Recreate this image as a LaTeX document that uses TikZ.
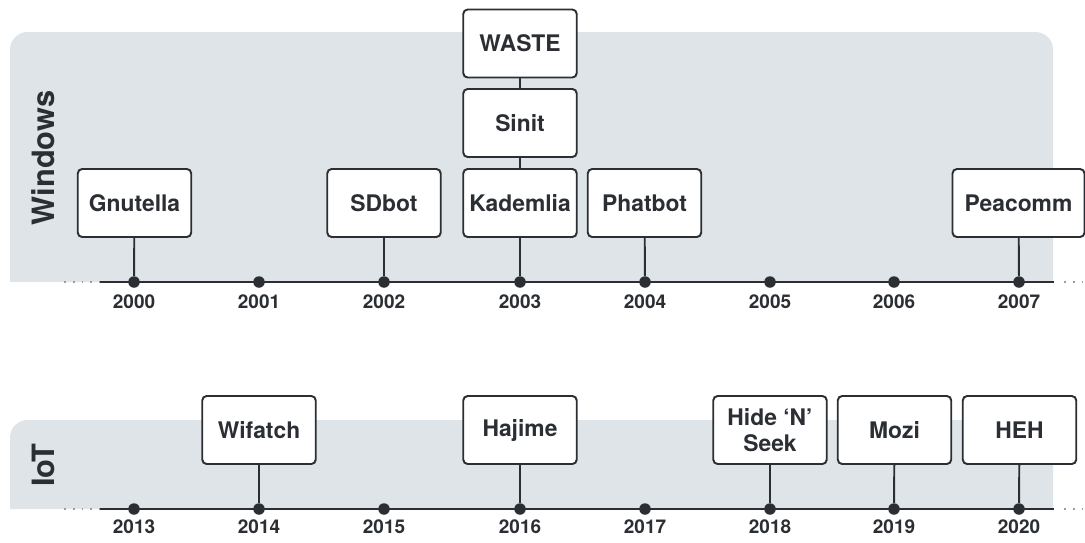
\documentclass[tikz,border=0pt]{standalone}
\usepackage{fontspec}
\setmainfont{TeX Gyre Heros}
\usepackage{tikz}
\usetikzlibrary{positioning}
\definecolor{panelgray}{HTML}{DEE4E7}
\definecolor{inkdark}{HTML}{2B2F33}
\definecolor{dotgray}{HTML}{9A9EA2}

\begin{document}
\begin{tikzpicture}[
    x=0.02cm, y=-0.02cm,
    % timeline styles
    bot/.style={rectangle, draw=inkdark, line width=1.1pt, fill=white, rounded corners=2.5pt,
                minimum width=2.27cm, minimum height=1.36cm, inner sep=2pt, align=center,
                text=inkdark, font=\fontsize{13}{15}\selectfont\bfseries},
    yr/.style={circle, fill=inkdark, minimum size=0.23cm, inner sep=0pt},
    yrlab/.style={text=inkdark, font=\fontsize{10.8}{12}\selectfont\bfseries},
    side/.style={rotate=90, text=inkdark, font=\fontsize{17.5}{20}\selectfont\bfseries},
    edge/.style={draw=inkdark, line width=1.1pt},
    axis/.style={draw=inkdark, line width=1.1pt},
    fade/.style={draw=dotgray, line width=1pt, dash pattern=on 1pt off 4pt},
]
\useasboundingbox (0,0) rectangle (1085,542);

% =========================================================
% Top panel: Windows
% =========================================================
\fill[panelgray] (10,282) [rounded corners=10] -- (10,32) -- (1053,32) [sharp corners] -- (1053,282) -- cycle;
\node[side] (win) at (43,158) {Windows};

% axis
\coordinate (wa) at (100,282);
\coordinate (wb) at (1054,282);
\coordinate (wfa) at (64,282);
\coordinate (wfb) at (1064,282);
\coordinate (wfc) at (1085,282);
\draw[axis] (wa) -- (wb);
\draw[fade] (wfa) -- (wa);
\draw[fade] (wfb) -- (wfc);

% years
\node[yr] (y2000) at (134,282) {};
\node[yr] (y2001) at (259,282) {};
\node[yr] (y2002) at (384,282) {};
\node[yr] (y2003) at (520,282) {};
\node[yr] (y2004) at (645,282) {};
\node[yr] (y2005) at (770,282) {};
\node[yr] (y2006) at (894,282) {};
\node[yr] (y2007) at (1019,282) {};

\node[yrlab] (l2000) at (134,302) {2000};
\node[yrlab] (l2001) at (259,302) {2001};
\node[yrlab] (l2002) at (384,302) {2002};
\node[yrlab] (l2003) at (520,302) {2003};
\node[yrlab] (l2004) at (645,302) {2004};
\node[yrlab] (l2005) at (770,302) {2005};
\node[yrlab] (l2006) at (894,302) {2006};
\node[yrlab] (l2007) at (1019,302) {2007};

% botnets
\node[bot] (gnu)   at (134.5,203) {Gnutella};
\node[bot] (sdbot) at (384,203)   {SDbot};
\node[bot] (kad)   at (520,203)   {Kademlia};
\node[bot] (sinit) at (520,123)   {Sinit};
\node[bot] (waste) at (520,43.5)  {WASTE};
\node[bot] (phat)  at (644.5,203) {Phatbot};
\node[bot, minimum width=2.64cm] (peac) at (1018.5,203) {Peacomm};

\draw[edge] (gnu) -- (y2000);
\draw[edge] (sdbot) -- (y2002);
\draw[edge] (kad) -- (y2003);
\draw[edge] (sinit) -- (kad);
\draw[edge] (waste) -- (sinit);
\draw[edge] (phat) -- (y2004);
\draw[edge] (peac) -- (y2007);

% =========================================================
% Bottom panel: IoT
% =========================================================
\fill[panelgray] (10,509) [rounded corners=10] -- (10,420) -- (1053,420) [sharp corners] -- (1053,509) -- cycle;
\node[side] (iot) at (43,465) {IoT};

% axis
\coordinate (ia) at (100,509);
\coordinate (ib) at (1054,509);
\coordinate (ifa) at (64,509);
\coordinate (ifb) at (1064,509);
\coordinate (ifc) at (1085,509);
\draw[axis] (ia) -- (ib);
\draw[fade] (ifa) -- (ia);
\draw[fade] (ifb) -- (ifc);

% years
\node[yr] (y2013) at (134,509) {};
\node[yr] (y2014) at (259,509) {};
\node[yr] (y2015) at (384,509) {};
\node[yr] (y2016) at (520,509) {};
\node[yr] (y2017) at (645,509) {};
\node[yr] (y2018) at (770,509) {};
\node[yr] (y2019) at (894,509) {};
\node[yr] (y2020) at (1019,509) {};

\node[yrlab] (l2013) at (134,527) {2013};
\node[yrlab] (l2014) at (259,527) {2014};
\node[yrlab] (l2015) at (384,527) {2015};
\node[yrlab] (l2016) at (520,527) {2016};
\node[yrlab] (l2017) at (645,527) {2017};
\node[yrlab] (l2018) at (770,527) {2018};
\node[yrlab] (l2019) at (894,527) {2019};
\node[yrlab] (l2020) at (1019,527) {2020};

% botnets
\node[bot] (wif)  at (259,430)   {Wifatch};
\node[bot] (haj)  at (520,430)   {Hajime};
\node[bot] (hns)  at (770,430)   {Hide ‘N’\\Seek};
\node[bot] (mozi) at (894.5,430) {Mozi};
\node[bot] (heh)  at (1019.5,430) {HEH};

\draw[edge] (wif) -- (y2014);
\draw[edge] (haj) -- (y2016);
\draw[edge] (hns) -- (y2018);
\draw[edge] (mozi) -- (y2019);
\draw[edge] (heh) -- (y2020);

\end{tikzpicture}
\end{document}
